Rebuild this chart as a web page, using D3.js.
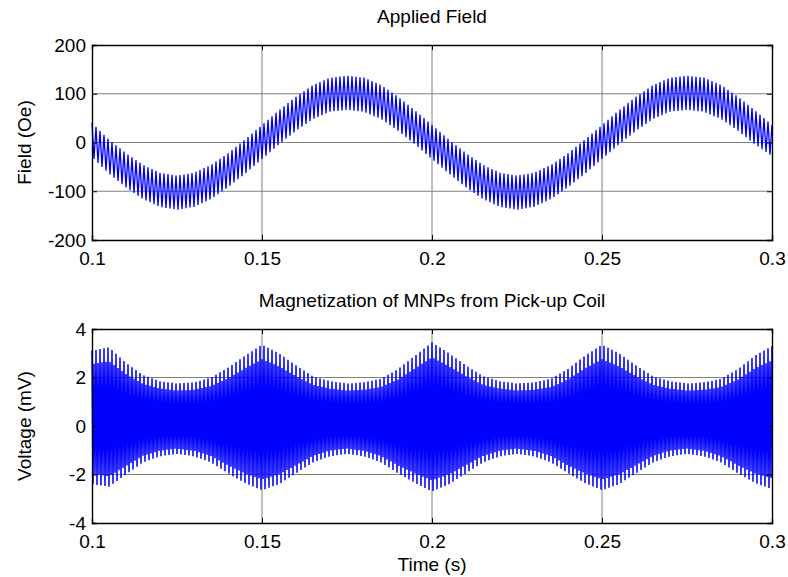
<!DOCTYPE html>
<html>
<head>
<meta charset="utf-8">
<script src="https://cdn.jsdelivr.net/npm/d3@7"></script>
<style>
  body { margin: 0; background: #fff; }
  svg { display: block; font-family: "Liberation Sans", Arial, sans-serif; }
  .tick text { font-size: 19px; fill: #000; }
</style>
</head>
<body>
<script>
// envelope samples (every 5 ms)
const sampleTimes = d3.range(41).map(i => +(0.1 + i * 0.005).toFixed(3))

const fieldUpper = [40, 6, -22, -46, -62, -68, -62, -46, -22, 6, 36,
  66, 94, 118, 133, 137, 133, 118, 94, 66, 36,
  6, -22, -46, -62, -68, -62, -46, -22, 6, 36,
  66, 94, 118, 133, 137, 133, 118, 94, 66, 36]
const fieldLower = [-30, -64, -92, -116, -132, -138, -132, -116, -92, -64, -34,
  -4, 24, 48, 63, 67, 63, 48, 24, -4, -34,
  -64, -92, -116, -132, -138, -132, -116, -92, -64, -34,
  -4, 24, 48, 63, 67, 63, 48, 24, -4, -28]

const voltUpper = [3.1, 3.25, 2.6, 2.1, 1.85, 1.75, 1.8, 2.0, 2.4, 2.9, 3.35,
  3.0, 2.5, 2.05, 1.85, 1.75, 1.8, 1.95, 2.35, 2.9, 3.45,
  3.0, 2.5, 2.05, 1.85, 1.75, 1.8, 1.95, 2.35, 2.9, 3.35,
  3.0, 2.5, 2.05, 1.85, 1.75, 1.8, 1.95, 2.35, 2.9, 3.3]
const voltLower = [-2.4, -2.5, -2.0, -1.5, -1.25, -1.15, -1.25, -1.5, -1.95, -2.35, -2.65,
  -2.4, -1.95, -1.5, -1.25, -1.15, -1.25, -1.5, -1.95, -2.35, -2.7,
  -2.4, -1.95, -1.5, -1.25, -1.15, -1.25, -1.5, -1.95, -2.35, -2.65,
  -2.4, -1.95, -1.5, -1.25, -1.15, -1.25, -1.5, -1.95, -2.35, -2.6]

const carrierHz = 850
const xTicks = [0.1, 0.15, 0.2, 0.25, 0.3]
const fieldTicks = [-200, -100, 0, 100, 200]
const voltTicks = [-4, -2, 0, 2, 4]

const W = 788, H = 577
const left = 92, right = 772
const lineColor = '#0000ff'

const svg = d3.select('body').append('svg')
  .attr('width', W).attr('height', H)

// zigzag between the read envelopes at the carrier rate
function carrierPoints(upper, lower, pattern) {
  const up = d3.scaleLinear().domain(sampleTimes).range(upper)
  const lo = d3.scaleLinear().domain(sampleTimes).range(lower)
  const step = 1 / carrierHz / pattern.length
  const pts = []
  let k = 0
  for (let t = 0.1; t <= 0.3 + 1e-9; t += step, k++) {
    const p = pattern[k % pattern.length]
    const mid = (up(t) + lo(t)) / 2
    const half = (up(t) - lo(t)) / 2
    pts.push([t, mid + p * half])
  }
  return pts
}

function panel(opts) {
  const { top, bottom, yDomain, yTicks, title, ylabel, points, width } = opts
  const x = d3.scaleLinear().domain([0.1, 0.3]).range([left, right])
  const y = d3.scaleLinear().domain(yDomain).range([bottom, top])
  const g = svg.append('g')

  // grid
  g.append('g').selectAll('line').data(xTicks.slice(1, -1)).join('line')
    .attr('x1', d => x(d)).attr('x2', d => x(d))
    .attr('y1', top).attr('y2', bottom)
    .attr('stroke', '#808080').attr('stroke-width', 1)
  g.append('g').selectAll('line').data(yTicks.slice(1, -1)).join('line')
    .attr('x1', left).attr('x2', right)
    .attr('y1', d => y(d)).attr('y2', d => y(d))
    .attr('stroke', '#808080').attr('stroke-width', 1)

  // signal
  g.append('path')
    .datum(points)
    .attr('fill', 'none')
    .attr('stroke', lineColor)
    .attr('stroke-width', width)
    .attr('d', d3.line().x(d => x(d[0])).y(d => y(d[1])))

  // axes (ticks point inward)
  const fmt = d => String(d)
  g.append('g').attr('transform', `translate(0,${bottom})`)
    .call(d3.axisBottom(x).tickValues(xTicks).tickFormat(fmt).tickSize(-5).tickPadding(12))
  g.append('g').attr('transform', `translate(0,${top})`)
    .call(d3.axisTop(x).tickValues(xTicks).tickFormat('').tickSize(-5))
  g.append('g').attr('transform', `translate(${left},0)`)
    .call(d3.axisLeft(y).tickValues(yTicks).tickFormat(fmt).tickSize(-5).tickPadding(6))
  g.append('g').attr('transform', `translate(${right},0)`)
    .call(d3.axisRight(y).tickValues(yTicks).tickFormat('').tickSize(-5))
  g.selectAll('.domain').attr('stroke', '#000').attr('stroke-width', 1.4)
  g.selectAll('.tick line').attr('stroke', '#000')
  g.selectAll('.tick text').style('font-family', '"Liberation Sans", Arial, sans-serif')

  g.append('text')
    .attr('x', (left + right) / 2).attr('y', top - 22)
    .attr('text-anchor', 'middle')
    .style('font-size', '19px')
    .text(title)

  g.append('text')
    .attr('transform', `translate(31,${(top + bottom) / 2}) rotate(-90)`)
    .attr('text-anchor', 'middle')
    .style('font-size', '19px')
    .text(ylabel)
}

panel({
  top: 45, bottom: 240,
  yDomain: [-200, 200], yTicks: fieldTicks,
  title: 'Applied Field', ylabel: 'Field (Oe)',
  points: carrierPoints(fieldUpper, fieldLower, [1, -1]),
  width: 1.3
})

panel({
  top: 329, bottom: 523,
  yDomain: [-4, 4], yTicks: voltTicks,
  title: 'Magnetization of MNPs from Pick-up Coil', ylabel: 'Voltage (mV)',
  points: carrierPoints(voltUpper, voltLower, [1, -1, 0.8, -0.85]),
  width: 1.5
})

svg.append('text')
  .attr('x', (left + right) / 2).attr('y', 571)
  .attr('text-anchor', 'middle')
  .style('font-size', '19px')
  .text('Time (s)')
</script>
</body>
</html>
